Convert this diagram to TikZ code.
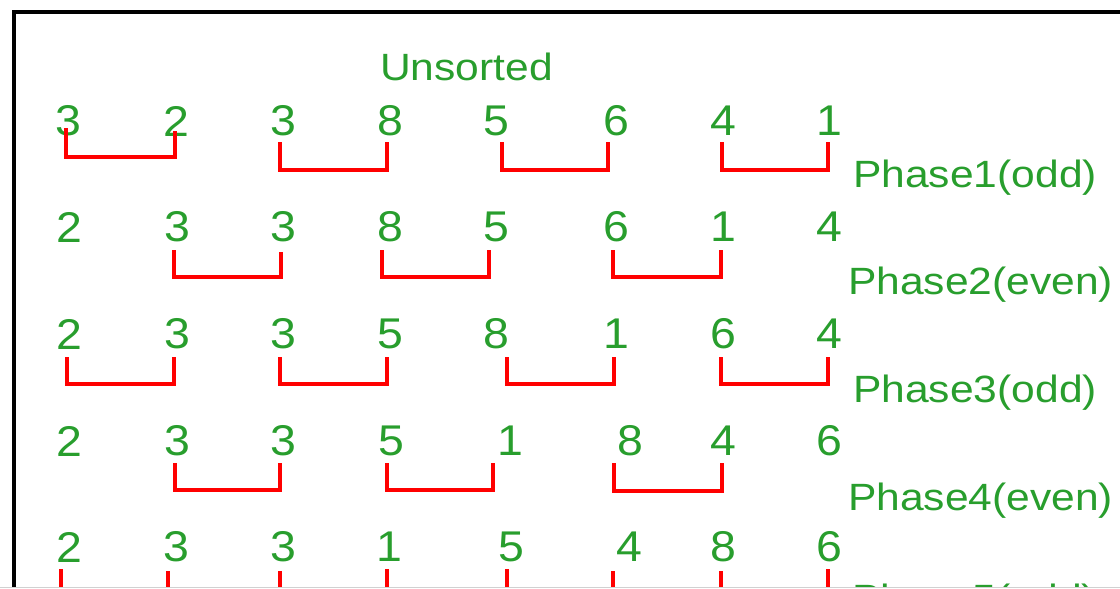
\documentclass[tikz,border=0pt]{standalone}
\usepackage{fontspec}
\newfontfamily\arialf{Liberation Sans}
\definecolor{tg}{RGB}{40,158,45}
\newcommand\numfnt{\fontsize{43}{43}\selectfont\arialf}
\newcommand\labfnt{\fontsize{38}{38}\selectfont\arialf}
\newcommand\nd[1]{\scalebox{1.08}[1]{#1}}
\newcommand\lb[1]{\scalebox{1.12}[1]{#1}}
\tikzset{
  num/.style={text=tg, font=\numfnt, inner sep=0pt},
  lab/.style={text=tg, font=\labfnt, inner sep=0pt, anchor=base west},
  br/.style={draw=red, line width=4pt, line join=miter},
  frame/.style={draw=black, line width=4pt}
}
\begin{document}
\begin{tikzpicture}[x=1pt,y=-1pt]
\useasboundingbox (0,0) rectangle (1120,589);
\clip (0,0) rectangle (1120,589);
\fill[white] (0,0) rectangle (1120,589);
\draw[frame] (14,600) -- (14,12) -- (1130,12);
% title
\node[lab] (title) at (380,80) {\lb{Unsorted}};
% row 1
\node[num] (a1) at (68,121) {\nd{3}};
\node[num] (a2) at (176,121) {\nd{2}};
\node[num] (a3) at (283,121) {\nd{3}};
\node[num] (a4) at (390,121) {\nd{8}};
\node[num] (a5) at (496,121) {\nd{5}};
\node[num] (a6) at (616,121) {\nd{6}};
\node[num] (a7) at (723,121) {\nd{4}};
\node[num] (a8) at (829,121) {\nd{1}};
\draw[br] (66,128) |- (175,157) -- (175,131);
\draw[br] (280,142) |- (387,170) -- (387,142);
\draw[br] (502,142) |- (608,170) -- (608,142);
\draw[br] (722,142) |- (828,170) -- (828,142);
\node[lab] (p1) at (853,187) {\lb{Phase1(odd)}};
% row 2
\node[num] (b1) at (69,227) {\nd{2}};
\node[num] (b2) at (177,227) {\nd{3}};
\node[num] (b3) at (283,227) {\nd{3}};
\node[num] (b4) at (390,227) {\nd{8}};
\node[num] (b5) at (496,227) {\nd{5}};
\node[num] (b6) at (616,227) {\nd{6}};
\node[num] (b7) at (723,227) {\nd{1}};
\node[num] (b8) at (829,227) {\nd{4}};
\draw[br] (174,250) |- (281,277) -- (281,252);
\draw[br] (382,250) |- (489,277) -- (489,250);
\draw[br] (613,250) |- (721,277) -- (721,250);
\node[lab] (p2) at (848,294) {\lb{Phase2(even)}};
% row 3
\node[num] (c1) at (69,334) {\nd{2}};
\node[num] (c2) at (177,334) {\nd{3}};
\node[num] (c3) at (283,334) {\nd{3}};
\node[num] (c4) at (390,334) {\nd{5}};
\node[num] (c5) at (496,334) {\nd{8}};
\node[num] (c6) at (616,334) {\nd{1}};
\node[num] (c7) at (723,334) {\nd{6}};
\node[num] (c8) at (829,334) {\nd{4}};
\draw[br] (67,357) |- (174,384) -- (174,357);
\draw[br] (280,357) |- (387,384) -- (387,357);
\draw[br] (507,357) |- (614,384) -- (614,357);
\draw[br] (721,357) |- (828,384) -- (828,357);
\node[lab] (p3) at (853,402) {\lb{Phase3(odd)}};
% row 4
\node[num] (d1) at (69,441) {\nd{2}};
\node[num] (d2) at (177,441) {\nd{3}};
\node[num] (d3) at (283,441) {\nd{3}};
\node[num] (d4) at (391,441) {\nd{5}};
\node[num] (d5) at (510,441) {\nd{1}};
\node[num] (d6) at (630,441) {\nd{8}};
\node[num] (d7) at (723,441) {\nd{4}};
\node[num] (d8) at (829,441) {\nd{6}};
\draw[br] (175,463) |- (280,490) -- (280,463);
\draw[br] (387,463) |- (493,490) -- (493,463);
\draw[br] (614,463) |- (722,491) -- (722,463);
\node[lab] (p4) at (848,510) {\lb{Phase4(even)}};
% row 5
\node[num] (e1) at (69,547) {\nd{2}};
\node[num] (e2) at (176,547) {\nd{3}};
\node[num] (e3) at (283,547) {\nd{3}};
\node[num] (e4) at (389,547) {\nd{1}};
\node[num] (e5) at (511,547) {\nd{5}};
\node[num] (e6) at (629,547) {\nd{4}};
\node[num] (e7) at (723,547) {\nd{8}};
\node[num] (e8) at (829,547) {\nd{6}};
\draw[br] (61,569) |- (168,596) -- (168,571);
\draw[br] (280,571) |- (387,596) -- (387,569);
\draw[br] (507,569) |- (613,596) -- (613,571);
\draw[br] (721,571) |- (828,596) -- (828,569);
\node[lab] (p5) at (852,611) {\lb{Phase5(odd)}};
% bottom edge
\fill[white] (0,588) rectangle (1120,589);
\draw[black!18, line width=1.5pt] (0,587.5) -- (1120,587.5);
\end{tikzpicture}
\end{document}
